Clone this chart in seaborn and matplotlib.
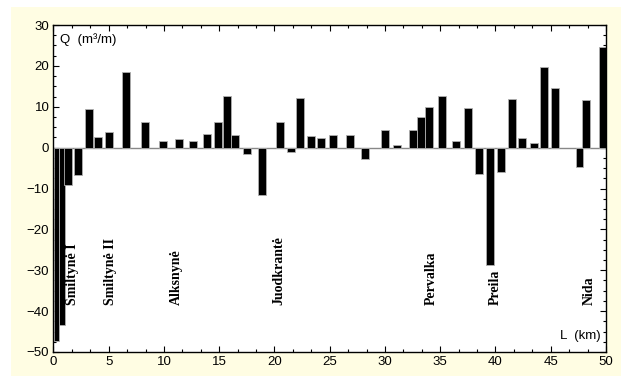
import numpy as np
import pandas as pd
import seaborn as sns
import matplotlib.pyplot as plt
from matplotlib.patches import Rectangle
from matplotlib.ticker import MultipleLocator

# Distance along the spit (km) and sediment balance Q (m3/m)
distance_km = [0.27, 0.77, 1.3, 2.2, 3.2, 4.0, 5.05, 6.6, 8.3, 9.9, 11.4, 12.6,
               13.9, 14.9, 15.7, 16.45, 17.5, 18.9, 20.5, 21.5, 22.3, 23.3,
               24.2, 25.3, 26.8, 28.2, 30.0, 31.1, 32.5, 33.3, 34.0, 35.2,
               36.4, 37.5, 38.5, 39.5, 40.5, 41.5, 42.4, 43.5, 44.4, 45.4,
               47.6, 48.2, 49.7]
q_values = [-47.2, -43.5, -9.2, -6.6, 9.5, 2.6, 3.9, 18.4, 6.2, 1.6, 2.1, 1.6,
            3.4, 6.2, 12.6, 3.1, -1.6, -11.6, 6.2, -1.1, 12.1, 2.9,
            2.4, 3.1, 3.1, -2.7, 4.2, 0.7, 4.2, 7.5, 10.0, 12.6,
            1.6, 9.8, -6.5, -28.6, -5.9, 11.8, 2.4, 1.1, 19.7, 14.6,
            -4.7, 11.6, 24.5]

# Settlements along the coast
place_names = ["Smiltynė I", "Smiltynė II", "Alksnynė", "Juodkrantė",
               "Pervalka", "Preila", "Nida"]
place_km = [1.75, 5.2, 11.1, 20.4, 34.2, 40.0, 48.5]

x_ticks = [0, 5, 10, 15, 20, 25, 30, 35, 40, 45, 50]
y_ticks = [-50, -40, -30, -20, -10, 0, 10, 20, 30]

df = pd.DataFrame({"L": distance_km, "Q": q_values})

sns.set_theme(style="white")
plt.rcParams["font.family"] = ["Liberation Sans", "DejaVu Sans"]
plt.rcParams["text.color"] = "black"
plt.rcParams["xtick.color"] = "black"
plt.rcParams["ytick.color"] = "black"

fig = plt.figure(figsize=(6.21, 3.76), dpi=100)
fig.patch.set_facecolor("white")
fig.patches.append(Rectangle((11 / 621, 0), 1, 1 - 7 / 376,
                             transform=fig.transFigure, facecolor="#fffde3",
                             edgecolor="none", zorder=-10))
ax = fig.add_axes([53.5 / 621, 1 - 352 / 376, (606 - 53.5) / 621, (352 - 25) / 376])
ax.set_facecolor("white")

# zero reference line
ax.axhline(0, color="#888888", lw=1.0, zorder=1)


def draw_bars(frame, bar_w):
    # seaborn scales width by the smallest spacing of native x positions
    native = np.nanmin(np.diff(np.unique(frame["L"])))
    sns.barplot(data=frame, x="L", y="Q", native_scale=True,
                width=bar_w / native, color="black", saturation=1,
                edgecolor="#b0b0b0", linewidth=0.6, ax=ax, zorder=2)


# the two profiles nearest the strait are sampled more densely
dense = df["L"] < 1.0
draw_bars(df[dense], 0.5)
draw_bars(df[~dense], 0.72)

ax.set_xlim(0, 50)
ax.set_ylim(-50, 30)
ax.set_xticks(x_ticks)
ax.set_yticks(y_ticks)
ax.xaxis.set_minor_locator(MultipleLocator(5 / 3))
ax.yaxis.set_minor_locator(MultipleLocator(2.5))
ax.tick_params(which="both", direction="in", top=True, right=True,
               bottom=True, left=True, color="black", labelcolor="black")
ax.tick_params(which="major", length=4, width=0.8, labelsize=9.5, pad=3)
ax.tick_params(which="minor", length=2.5, width=0.8)
ax.set_xlabel("")
ax.set_ylabel("")
for s in ax.spines.values():
    s.set_color("black")
    s.set_linewidth(1.0)

ax.text(0.012, 0.975, "Q  (m³/m)", transform=ax.transAxes, ha="left",
        va="top", fontsize=9.5, color="black")
ax.text(0.99, 0.03, "L  (km)", transform=ax.transAxes, ha="right",
        va="bottom", fontsize=9.5, color="black")

for name, km in zip(place_names, place_km):
    ax.text(km, -38.6, name, rotation=90, ha="center", va="bottom",
            fontsize=10, fontweight="bold", color="black",
            family=["Liberation Serif", "DejaVu Serif"], zorder=3)

fig.savefig("out.png", dpi=100)
